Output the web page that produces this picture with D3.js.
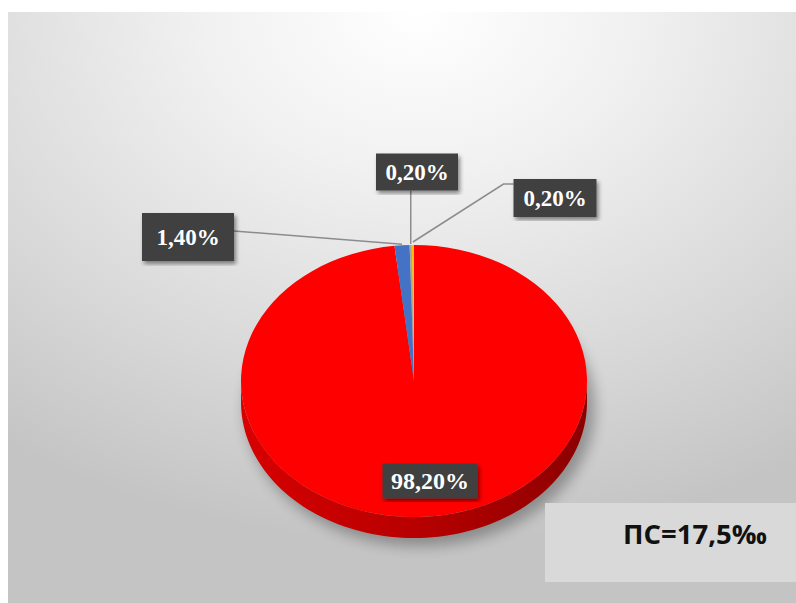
<!DOCTYPE html>
<html lang="ru">
<head>
<meta charset="UTF-8">
<title>ПС</title>
<script src="https://d3js.org/d3.v7.min.js"></script>
<style>
  body { margin: 0; background: #fff; }
  svg { display: block; }
</style>
</head>
<body>
<svg id="chart" width="796" height="603"></svg>
<script>
// slices, clockwise from 12 o'clock (Excel order)
const categories = ["Группа 1", "Группа 2", "Группа 3", "Группа 4"];
const values = [98.2, 1.4, 0.2, 0.2];
const labels = ["98,20%", "1,40%", "0,20%", "0,20%"];
const colors = ["#ff0000", "#4472c4", "#a5a5a5", "#ffc000"];
const note = "ПС=17,5‰";

// label boxes: centre x, centre y, width, height (layout only)
const labelBoxes = [[430, 481, 95, 35], [188, 237, 92, 48], [417, 172, 82, 37], [555, 198, 83, 38]];

const svg = d3.select("#chart");
const W = 796, H = 603;
const cx = 414, cy = 381, rx = 173, ry = 136, depth = 21;

const defs = svg.append("defs");

const bg = defs.append("radialGradient").attr("id", "bg")
    .attr("cx", "52%").attr("cy", "0%").attr("r", "90%").attr("fx", "52%").attr("fy", "0%");
bg.append("stop").attr("offset", 0).attr("stop-color", "#ffffff");
bg.append("stop").attr("offset", 0.3).attr("stop-color", "#f1f1f1");
bg.append("stop").attr("offset", 0.7).attr("stop-color", "#d8d8d8");
bg.append("stop").attr("offset", 1).attr("stop-color", "#c4c4c4");

const side = defs.append("linearGradient").attr("id", "side")
    .attr("x1", "0%").attr("x2", "100%").attr("y1", "0%").attr("y2", "0%");
side.append("stop").attr("offset", 0).attr("stop-color", "#d80000");
side.append("stop").attr("offset", 0.5).attr("stop-color", "#b80000");
side.append("stop").attr("offset", 1).attr("stop-color", "#8c0000");

defs.append("filter").attr("id", "blur").attr("x", "-20%").attr("y", "-20%").attr("width", "140%").attr("height", "140%")
  .append("feGaussianBlur").attr("stdDeviation", 7);

defs.append("filter").attr("id", "drop")
  .append("feDropShadow").attr("dx", 2).attr("dy", 3).attr("stdDeviation", 2)
  .attr("flood-color", "#000").attr("flood-opacity", 0.45);

// panel
svg.append("rect").attr("x", 8).attr("y", 12).attr("width", W - 8).attr("height", H - 12)
    .attr("fill", "url(#bg)");

// soft shadow under pie
svg.append("ellipse")
    .attr("cx", cx + 6).attr("cy", cy + depth + 6)
    .attr("rx", rx + 2).attr("ry", ry + 2)
    .attr("fill", "#000").attr("opacity", 0.3)
    .attr("filter", "url(#blur)");

// side band (front half is entirely the red slice)
const pt = (a, dy) => [cx + rx * Math.sin(a), cy - ry * Math.cos(a) + dy];
const front = d3.range(Math.PI / 2, 3 * Math.PI / 2 + 0.001, Math.PI / 90);
const sidePts = front.map(a => pt(a, 0)).concat(front.slice().reverse().map(a => pt(a, depth)));
svg.append("path")
    .attr("d", d3.line()(sidePts) + "Z")
    .attr("fill", "url(#side)");

// top face
const pie = d3.pie().sort(null).value(d => d)(values);
const arc = d3.arc().innerRadius(0).outerRadius(rx);
svg.append("g")
    .attr("transform", `translate(${cx},${cy}) scale(1,${ry / rx})`)
  .selectAll("path")
  .data(pie)
  .join("path")
    .attr("d", arc)
    .attr("fill", (d, i) => colors[i]);

// leader lines
const rim = d => pt((d.startAngle + d.endAngle) / 2, 0);
const lines = svg.append("g").attr("fill", "none").attr("stroke", "#8c8c8c").attr("stroke-width", 1.5);
{
  const a = rim(pie[1]), b = labelBoxes[1];
  lines.append("path").attr("d", d3.line()([[b[0] + b[2] / 2, b[1] - 6], [a[0], a[1] - 1]]));
}
{
  const a = rim(pie[2]), b = labelBoxes[2];
  lines.append("path").attr("d", d3.line()([[a[0], b[1] + b[3] / 2], [a[0], a[1] - 1]]));
}
{
  const a = rim(pie[3]), b = labelBoxes[3];
  const x0 = b[0] - b[2] / 2, y0 = b[1] - 14;
  lines.append("path").attr("d", d3.line()([[x0, y0], [x0 - 10, y0], [a[0], a[1] - 3]]));
}

// data labels
const lab = svg.append("g").selectAll("g")
  .data(pie)
  .join("g")
    .attr("transform", (d, i) => `translate(${labelBoxes[i][0]},${labelBoxes[i][1]})`);
lab.append("rect")
    .attr("x", (d, i) => -labelBoxes[i][2] / 2)
    .attr("y", (d, i) => -labelBoxes[i][3] / 2)
    .attr("width", (d, i) => labelBoxes[i][2])
    .attr("height", (d, i) => labelBoxes[i][3])
    .attr("fill", "#404040")
    .attr("filter", "url(#drop)");
lab.append("text")
    .attr("text-anchor", "middle")
    .attr("dy", "0.35em")
    .attr("fill", "#fff")
    .attr("font-family", "'Liberation Serif', 'DejaVu Serif', serif")
    .attr("font-weight", "bold")
    .attr("font-size", (d, i) => i === 0 ? 24 : 23)
    .text((d, i) => labels[i]);

// note box
svg.append("rect").attr("x", 545).attr("y", 503).attr("width", W - 545).attr("height", 79)
    .attr("fill", "#d9d9d9");
svg.append("text")
    .attr("x", 623).attr("y", 544)
    .attr("font-family", "'Open Sans', 'Noto Sans', sans-serif")
    .attr("font-weight", "bold")
    .attr("font-size", 26)
    .attr("textLength", 144)
    .attr("lengthAdjust", "spacingAndGlyphs")
    .attr("fill", "#111")
    .text(note);
</script>
</body>
</html>
